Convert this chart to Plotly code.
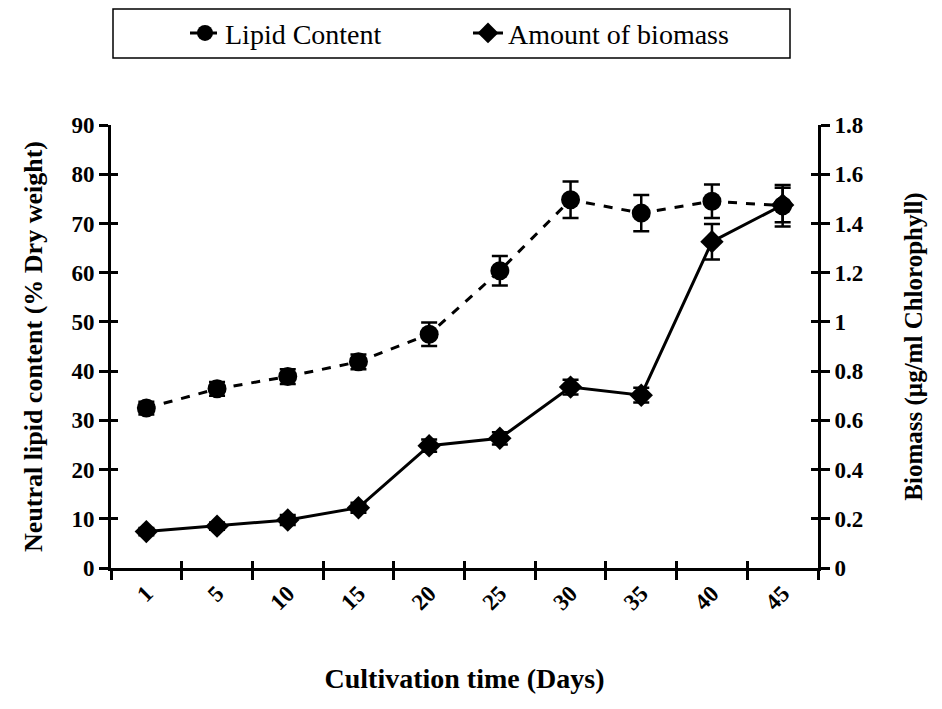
import plotly.graph_objects as go

days = ["1", "5", "10", "15", "20", "25", "30", "35", "40", "45"]
lipid = [32.5, 36.4, 38.9, 41.9, 47.5, 60.4, 74.8, 72.1, 74.5, 73.6]
lipid_err = [1.3, 1.4, 1.5, 1.5, 2.4, 3.0, 3.7, 3.7, 3.4, 4.2]
biomass = [0.148, 0.170, 0.195, 0.245, 0.497, 0.527, 0.735, 0.702, 1.326, 1.475]
biomass_err = [0.015, 0.015, 0.02, 0.02, 0.025, 0.025, 0.03, 0.03, 0.072, 0.07]

left_ticks = [0, 10, 20, 30, 40, 50, 60, 70, 80, 90]
right_ticks = [0, 0.2, 0.4, 0.6, 0.8, 1.0, 1.2, 1.4, 1.6, 1.8]
right_labels = ["0", "0.2", "0.4", "0.6", "0.8", "1", "1.2", "1.4", "1.6", "1.8"]
x_index = list(range(len(days)))
x_bounds = [i - 0.5 for i in range(len(days) + 1)]

serif = "Liberation Serif"

fig = go.Figure()
fig.add_trace(go.Scatter(
    x=days, y=lipid, name="Lipid Content", mode="lines+markers",
    line=dict(color="black", width=3, dash="dash"),
    marker=dict(symbol="circle", size=19, color="black"),
    error_y=dict(type="data", array=lipid_err, color="black", thickness=2.5, width=8),
    yaxis="y",
))
fig.add_trace(go.Scatter(
    x=days, y=biomass, name="Amount of biomass", mode="lines+markers",
    line=dict(color="black", width=3),
    marker=dict(symbol="diamond", size=18, color="black"),
    error_y=dict(type="data", array=biomass_err, color="black", thickness=2.5, width=8),
    yaxis="y2",
))
# invisible helper traces so that the inner-tick overlay axes are drawn
fig.add_trace(go.Scatter(x=x_index, y=lipid, xaxis="x2", yaxis="y3", mode="markers",
                         marker=dict(opacity=0), showlegend=False, hoverinfo="skip"))
fig.add_trace(go.Scatter(x=x_index, y=biomass, xaxis="x2", yaxis="y4", mode="markers",
                         marker=dict(opacity=0), showlegend=False, hoverinfo="skip"))

tick_in = dict(ticks="inside", ticklen=7, tickwidth=3, tickcolor="black",
               showticklabels=False, showgrid=False, zeroline=False, showline=False)

fig.update_layout(
    width=934, height=701,
    margin=dict(l=103, r=124, t=117, b=141, autoexpand=False),
    paper_bgcolor="white", plot_bgcolor="white",
    font=dict(family=serif, color="black"),
    showlegend=True,
    legend=dict(
        orientation="h", x=0.1895, xanchor="left", y=0.964, yanchor="middle",
        yref="container", xref="container",
        borderwidth=0,
        font=dict(family=serif, size=28, color="black"),
        bgcolor="rgba(0,0,0,0)", entrywidth=238, entrywidthmode="pixels",
    ),
    shapes=[dict(type="rect", xref="paper", yref="paper",
                 x0=0.00283, x1=0.9604, y0=1.1512, y1=1.2619,
                 line=dict(color="black", width=1.5), fillcolor="rgba(0,0,0,0)")],
    xaxis=dict(
        type="category", range=[-0.5, 9.5],
        showline=True, linecolor="black", linewidth=3,
        ticks="outside", tickson="boundaries", ticklen=9, tickwidth=3, tickcolor="black",
        tickangle=-45,
        tickfont=dict(family=serif, size=23, color="black", weight="bold"),
        showgrid=False, zeroline=False,
        title=dict(text="Cultivation time (Days)", font=dict(family=serif, size=28, color="black", weight="bold"), standoff=55),
    ),
    xaxis2=dict(overlaying="x", type="linear", range=[-0.5, 9.5], tickvals=x_bounds,
                side="bottom", anchor="y3", **tick_in),
    yaxis=dict(
        range=[0, 90], tickvals=left_ticks,
        showline=True, linecolor="black", linewidth=3,
        ticks="outside", ticklen=9, tickwidth=3, tickcolor="black",
        tickfont=dict(family=serif, size=23, color="black", weight="bold"),
        showgrid=False, zeroline=False,
        title=dict(text="Neutral lipid content (% Dry weight)", font=dict(family=serif, size=26, color="black", weight="bold"), standoff=22),
    ),
    yaxis2=dict(
        range=[0, 1.8], tickvals=right_ticks, ticktext=right_labels,
        overlaying="y", side="right",
        showline=True, linecolor="black", linewidth=3,
        ticks="outside", ticklen=9, tickwidth=3, tickcolor="black",
        tickfont=dict(family=serif, size=23, color="black", weight="bold"),
        showgrid=False, zeroline=False,
        title=dict(text="Biomass (µg/ml Chlorophyll)", font=dict(family=serif, size=25, color="black", weight="bold"), standoff=42),
    ),
    yaxis3=dict(overlaying="y", range=[0, 90], tickvals=left_ticks, side="left", anchor="x2", **tick_in),
    yaxis4=dict(overlaying="y", range=[0, 1.8], tickvals=right_ticks, side="right", anchor="x2", **tick_in),
)

fig.write_html("out.html")
